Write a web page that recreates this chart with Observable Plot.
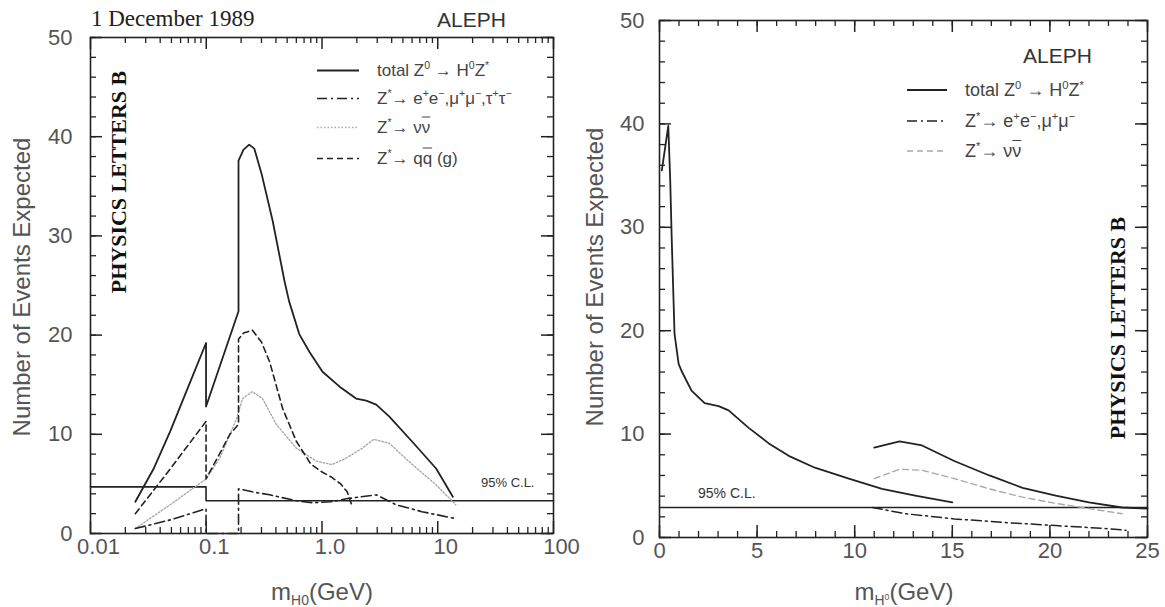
<!DOCTYPE html>
<html><head><meta charset="utf-8">
<script src="https://cdn.jsdelivr.net/npm/d3@7"></script>
<script src="https://cdn.jsdelivr.net/npm/@observablehq/plot@0.6"></script>
<style>
html,body{margin:0;padding:0;background:#fff}
#page{position:relative;width:1165px;height:607px;overflow:hidden;font-family:"Liberation Sans",Arial,sans-serif;color:#444}
.abs{position:absolute;white-space:nowrap;line-height:1}
.plot{position:absolute;top:0}
.rot{transform:translate(-50%,-50%) rotate(-90deg)}
.ctr{transform:translateX(-50%)}
.leg{position:absolute;display:flex;align-items:center;color:#444;white-space:nowrap;line-height:1;transform:translateY(-50%)}
.leg svg{margin-right:18px}
.ov{text-decoration:overline}
sup{font-size:62%;vertical-align:0.6em;line-height:0}
sub{font-size:58%;vertical-align:-0.35em;line-height:0}
</style></head>
<body><div id="page"></div>
<script>
// ---------- data: left panel (log m_H0, GeV) ----------
const leftTotal = [[0.0244,3.2],[0.035,6.5],[0.0488,10.3],[0.07,14.8],[0.0996,19.2],[0.0996,12.8],[0.19,22.4],[0.19,37.6],[0.21,38.7],[0.235,39.2],[0.26,38.8],[0.3,36.3],[0.375,31.5],[0.475,25.4],[0.52,23.4],[0.636,20.1],[0.78,18.3],[1.01,16.3],[1.42,14.8],[1.97,13.6],[2.41,13.4],[2.94,13.0],[3.8,11.8],[5.97,9.3],[9.68,6.55],[13.5,3.7]];
const leftLeptons = [[0.0244,0.5],[0.05,1.4],[0.0996,2.5],[0.0996,0],[0.19,0],[0.19,4.5],[0.25,4.2],[0.353,3.9],[0.6,3.3],[0.83,3.1],[1.2,3.2],[1.62,3.5],[2.94,3.9],[4.37,2.9],[7.3,2.2],[14.3,1.5]];
const leftNuNu = [[0.0244,0.5],[0.0488,2.9],[0.0996,5.5],[0.131,7.6],[0.183,11.6],[0.206,13.6],[0.25,14.3],[0.306,13.6],[0.403,11.0],[0.6,8.6],[0.89,7.3],[1.22,6.95],[1.62,7.6],[2.23,8.6],[2.8,9.5],[3.8,9.1],[5.97,7.0],[9.68,4.9],[14.3,2.9]];
const leftQQ = [[0.0244,2.0],[0.0488,6.5],[0.0996,11.3],[0.0996,5.5],[0.13,8.0],[0.16,10.0],[0.19,11.0],[0.19,19.6],[0.21,20.2],[0.25,20.5],[0.3,19.3],[0.353,17.3],[0.457,12.6],[0.6,9.3],[0.8,7.0],[1.0,6.2],[1.2,5.7],[1.45,5.0],[1.65,4.2],[1.83,2.7]];
const leftCL = [[0.01,4.7],[0.0996,4.7],[0.0996,3.3],[100,3.3]];
const leftXTicks = [0.01,0.1,1,10,100];
const leftXLabels = ["0.01","0.1","1.0","10","100"];

// ---------- data: right panel (linear m_H0, GeV) ----------
const rightTotalLow = [[0.12,35.5],[0.45,39.8],[0.55,34.5],[0.62,29.3],[0.77,19.7],[0.98,16.8],[1.13,16.1],[1.64,14.2],[2.31,13.0],[3.03,12.7],[3.54,12.3],[4.57,10.6],[5.6,9.1],[6.62,7.9],[7.96,6.75],[9.7,5.7],[11.4,4.7],[13.1,4.05],[15.0,3.4]];
const rightTotalHigh = [[11.0,8.7],[12.3,9.3],[13.45,8.9],[15.1,7.4],[16.9,6.0],[18.6,4.8],[20.3,4.05],[22.0,3.4],[23.7,2.9],[25.0,2.8]];
const rightLeptons = [[10.9,2.9],[12.6,2.3],[15.1,1.8],[17.7,1.45],[20.3,1.15],[22.8,0.87],[23.9,0.7]];
const rightNuNu = [[11.0,5.7],[12.3,6.6],[13.45,6.5],[15.1,5.7],[16.9,4.7],[18.6,3.9],[20.3,3.3],[22.0,2.8],[23.7,2.3]];
const rightCL = [[0,2.9],[25,2.9]];
const rightXTicks = [0,5,10,15,20,25];

const yTicks = [0,10,20,30,40,50];
const yMinor = d3.range(0,51,2);

// ---------- styles ----------
const DARK = "#222", LIGHT = "#a8a8a8";
const sTotal = {stroke:DARK, strokeWidth:1.8};
const sLepL = {stroke:DARK, strokeWidth:1.6, strokeDasharray:"10,4,2,4"};
const sNuL = {stroke:LIGHT, strokeWidth:1.4, strokeDasharray:"1.5,2"};
const sQQ = {stroke:DARK, strokeWidth:1.6, strokeDasharray:"6,4"};
const sLepR = {stroke:DARK, strokeWidth:1.5, strokeDasharray:"10,4,2,4"};
const sNuR = {stroke:LIGHT, strokeWidth:1.4, strokeDasharray:"6,4"};

const FONT = "Liberation Sans, Arial, sans-serif";
const xy = {x: d => d[0], y: d => d[1]};

// inward ticks on all four sides, tick marks shortened by insets
function tickMarks(xMajor, xMinor, innerW, innerH) {
  const m = [];
  const id = d => d;
  for (const [vals, len, sw] of [[xMajor, 12, 1.5], [xMinor, 6, 1.3]]) {
    m.push(Plot.tickX(vals, {x:id, insetTop:innerH - len, stroke:DARK, strokeWidth:sw}));
    m.push(Plot.tickX(vals, {x:id, insetBottom:innerH - len, stroke:DARK, strokeWidth:sw}));
  }
  for (const [vals, len, sw] of [[yTicks, 12, 1.5], [yMinor, 6, 1.3]]) {
    m.push(Plot.tickY(vals, {y:id, insetRight:innerW - len, stroke:DARK, strokeWidth:sw}));
    m.push(Plot.tickY(vals, {y:id, insetLeft:innerW - len, stroke:DARK, strokeWidth:sw}));
  }
  return m;
}
function labelAxes(xMajor, yPad, xFmt, xdx) {
  return [
    Plot.axisX({anchor:"bottom", ticks:xMajor, tickSize:0, tickPadding:5, dx:xdx, tickFormat:xFmt, fontSize:22, fill:"#555", label:null}),
    Plot.axisY({anchor:"left", ticks:yTicks, tickSize:0, tickPadding:yPad, tickFormat:d => String(d), fontSize:22, fill:"#555", label:null})
  ];
}

const leftMinor = [];
for (const d of [0.01,0.1,1,10]) for (let k = 2; k <= 9; k++) leftMinor.push(+(d*k).toPrecision(3));
const rightMinor = d3.range(0,26,1);

const L = {w:580, ml:90, mr:27, mt:37, mb:74};
const R = {w:585, ml:79, mr:18, mt:20, mb:70};

const left = Plot.plot({
  width:L.w, height:607, marginLeft:L.ml, marginRight:L.mr, marginTop:L.mt, marginBottom:L.mb,
  x:{type:"log", domain:[0.01,100]},
  y:{domain:[0,50]},
  style:{background:"transparent", fontFamily:FONT},
  marks:[
    ...labelAxes(leftXTicks, 18, d => leftXLabels[leftXTicks.indexOf(d)], 8),
    ...tickMarks(leftXTicks, leftMinor, L.w - L.ml - L.mr, 607 - L.mt - L.mb),
    Plot.line(leftCL, {...xy, stroke:DARK, strokeWidth:1.6}),
    Plot.line(leftNuNu, {...xy, ...sNuL}),
    Plot.line(leftLeptons, {...xy, ...sLepL}),
    Plot.line(leftQQ, {...xy, ...sQQ}),
    Plot.line(leftTotal, {...xy, ...sTotal}),
    Plot.frame({stroke:DARK, strokeWidth:1.6})
  ]
});
left.classList.add("plot"); left.style.left = "0px";

const right = Plot.plot({
  width:R.w, height:607, marginLeft:R.ml, marginRight:R.mr, marginTop:R.mt, marginBottom:R.mb,
  x:{domain:[0,25]},
  y:{domain:[0,50]},
  style:{background:"transparent", fontFamily:FONT},
  marks:[
    ...labelAxes(rightXTicks, 15, d => String(d), 0),
    ...tickMarks(rightXTicks, rightMinor, R.w - R.ml - R.mr, 607 - R.mt - R.mb),
    Plot.line(rightCL, {...xy, stroke:DARK, strokeWidth:1.6}),
    Plot.line(rightNuNu, {...xy, ...sNuR}),
    Plot.line(rightLeptons, {...xy, ...sLepR}),
    Plot.line(rightTotalLow, {...xy, ...sTotal}),
    Plot.line(rightTotalHigh, {...xy, ...sTotal}),
    Plot.frame({stroke:DARK, strokeWidth:1.6})
  ]
});
right.classList.add("plot"); right.style.left = "580px";

const page = document.getElementById("page");
page.appendChild(left);
page.appendChild(right);

function addText(html, css, cls = "abs") {
  const d = document.createElement("div");
  d.className = cls;
  d.innerHTML = html;
  Object.assign(d.style, css);
  page.appendChild(d);
  return d;
}
function sample(style, w = 42) {
  const dash = style.strokeDasharray ? `stroke-dasharray="${style.strokeDasharray}"` : "";
  return `<svg width="${w}" height="6"><line x1="0" y1="3" x2="${w}" y2="3" stroke="${style.stroke}" stroke-width="${style.strokeWidth}" ${dash}/></svg>`;
}

addText("1 December 1989", {left:"91px", top:"7px", fontFamily:"Liberation Serif, serif", fontSize:"23px", color:"#222"});
addText("ALEPH", {left:"437px", top:"9px", fontSize:"21px", color:"#333"});
addText("ALEPH", {left:"1023px", top:"45px", fontSize:"21px", color:"#333"});

addText("PHYSICS LETTERS B", {left:"119px", top:"182px", fontFamily:"Liberation Serif, serif", fontWeight:"bold", fontSize:"22px", color:"#111"}, "abs rot");
addText("PHYSICS LETTERS B", {left:"1118px", top:"328px", fontFamily:"Liberation Serif, serif", fontWeight:"bold", fontSize:"22px", color:"#111"}, "abs rot");

addText("Number of Events Expected", {left:"22px", top:"287px", fontSize:"24px", color:"#555"}, "abs rot");
addText("Number of Events Expected", {left:"595px", top:"277px", fontSize:"24px", color:"#555"}, "abs rot");
addText("m<sub>H0</sub>(GeV)", {left:"322px", top:"580px", fontSize:"24px", color:"#555"}, "abs ctr");
addText("m<sub>H<sup>0</sup></sub>(GeV)", {left:"904px", top:"580px", fontSize:"24px", color:"#555"}, "abs ctr");

addText("95% C.L.", {left:"481px", top:"476px", fontSize:"13px", color:"#333"});
addText("95% C.L.", {left:"698px", top:"486px", fontSize:"14px", color:"#333"});

const nunu = "ν<span class='ov'>ν</span>";
const qq = "q<span class='ov'>q</span>";
const leftLegend = [
  [sTotal, "total Z<sup>0</sup> → H<sup>0</sup>Z<sup>*</sup>", 70],
  [sLepL, "Z<sup>*</sup>→ e<sup>+</sup>e<sup>−</sup>,μ<sup>+</sup>μ<sup>−</sup>,τ<sup>+</sup>τ<sup>−</sup>", 98],
  [sNuL, "Z<sup>*</sup>→ " + nunu, 127],
  [sQQ, "Z<sup>*</sup>→ " + qq + " (g)", 158]
];
for (const [s, t, y] of leftLegend) addText(sample(s) + `<span>${t}</span>`, {left:"317px", top:y + "px", fontSize:"17px"}, "leg");
const rightLegend = [
  [sTotal, "total Z<sup>0</sup> → H<sup>0</sup>Z<sup>*</sup>", 90],
  [sLepR, "Z<sup>*</sup>→ e<sup>+</sup>e<sup>−</sup>,μ<sup>+</sup>μ<sup>−</sup>", 121],
  [sNuR, "Z<sup>*</sup>→ " + nunu, 151]
];
for (const [s, t, y] of rightLegend) addText(sample(s, 40) + `<span>${t}</span>`, {left:"907px", top:y + "px", fontSize:"18px"}, "leg");
</script></body></html>
